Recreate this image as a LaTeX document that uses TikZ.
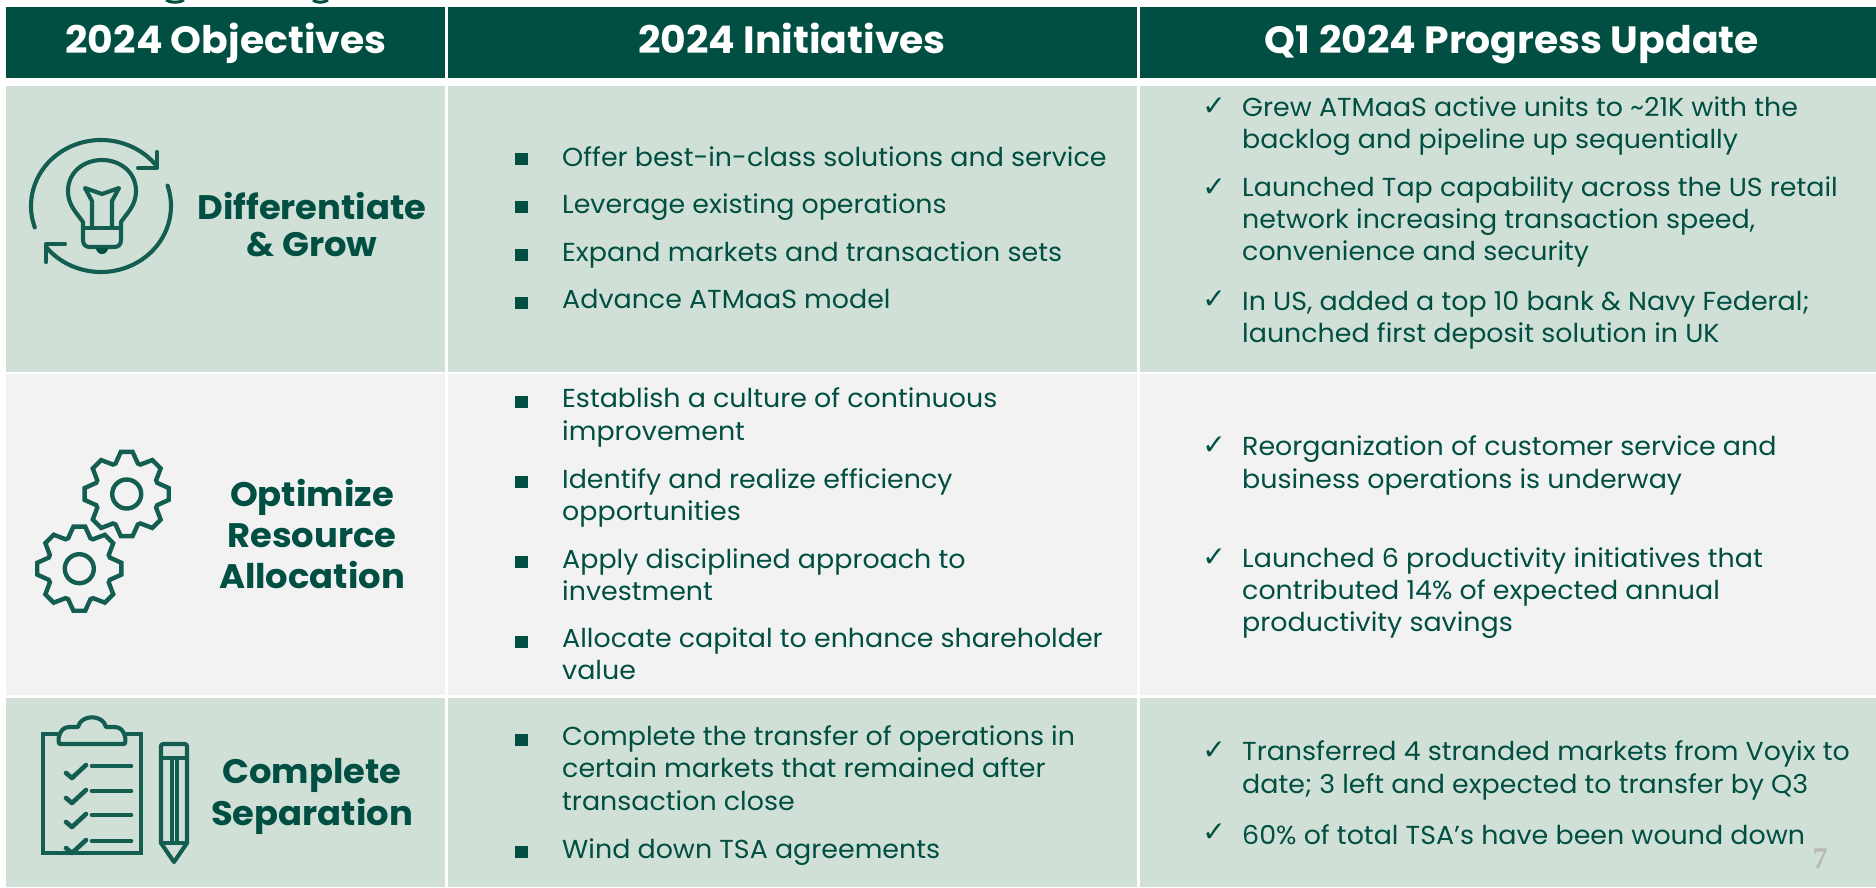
\documentclass[tikz,border=0pt]{standalone}
\usepackage{fontspec}
\setmainfont{Poppins}
\newfontfamily\bodyfont{Poppins}[FakeStretch=1.034]
\newfontfamily\headfont{Poppins Bold}[FakeStretch=1.035]
\newfontfamily\labfont{Poppins Bold}[FakeStretch=1.04]
\newfontfamily\chk{DejaVu Sans}
\newfontfamily\pgfont{Liberation Serif}
\definecolor{dk}{HTML}{004F42}
\definecolor{lg}{HTML}{D1E0D7}
\definecolor{gr}{HTML}{F2F2F2}
\tikzset{
  cellg/.style={fill=lg,draw=none},
  cellw/.style={fill=gr,draw=none},
  hd/.style={fill=dk,draw=none},
  hdtext/.style={text=white,font=\fontsize{38}{44}\selectfont\headfont,anchor=base},
  rowlab/.style={text=dk,font=\fontsize{34}{41}\selectfont\labfont,align=center,anchor=center},
  body/.style={text=dk,font=\fontsize{26}{32.2}\selectfont\bodyfont,align=left,anchor=west,inner sep=0pt},
  ck/.style={text=dk,anchor=center,inner sep=0pt,font=\fontsize{28}{28}\selectfont\chk},
  bsq/.style={fill=dk},
  ico/.style={draw=dk!92!white,line width=4.1pt,line cap=round,line join=round},
}
\newcommand\gearicon[2]{%
  \begin{scope}[shift={(#1,#2)}]
  \draw[ico,line width=4.4pt,line join=miter]
    (8:42.5) \foreach \k in {0,45,...,315}{
      -- ({\k+20}:32.5) to[bend left=14] ({\k+25}:32.5) -- ({\k+37}:42.5) -- ({\k+53}:42.5)
    } -- cycle;
  \draw[ico,line width=4.4pt] (0,0) circle (14.5);
  \end{scope}}
\begin{document}
\begin{tikzpicture}[x=1pt,y=-1pt]
\useasboundingbox (0,0) rectangle (1876,887);
\fill[white] (0,0) rectangle (1876,887);
% clipped descenders of the title above the table
\draw[dk,line width=3pt] (166,0) .. controls (170,3) and (180,3) .. (184,0);
\draw[dk,line width=3pt] (313,0) .. controls (316,3) and (324,3) .. (328,0);
% headers
\path[hd] (6,7) rectangle (445,78);
\path[hd] (448,7) rectangle (1137,78);
\path[hd] (1140,7) rectangle (1876,78);
\node[hdtext] (h1) at (226,53) {2024 Objectives};
\node[hdtext] (h2) at (792,53) {2024 Initiatives};
\node[hdtext] (h3) at (1512,53) {Q1 2024 Progress Update};
% rows
\path[cellg] (6,86) rectangle (445,372);
\path[cellg] (448,86) rectangle (1137,372);
\path[cellg] (1140,86) rectangle (1876,372);
\path[cellw] (6,374) rectangle (445,695);
\path[cellw] (448,374) rectangle (1137,695);
\path[cellw] (1140,374) rectangle (1876,695);
\path[cellg] (6,698) rectangle (445,887);
\path[cellg] (448,698) rectangle (1137,887);
\path[cellg] (1140,698) rectangle (1876,887);
% row labels
\node[rowlab,font=\fontsize{34}{37}\selectfont\labfont] (r1) at (312,225) {Differentiate\\\& Grow};
\node[rowlab] (r2) at (312,534) {Optimize\\Resource\\Allocation};
\node[rowlab,font=\fontsize{34}{42}\selectfont\labfont] (r3) at (312,796) {Complete\\Separation};
% bulb icon
\draw[ico] plot[smooth,domain=161:321,samples=30] ({101+70*cos(\x)},{206+66*sin(\x)});
\draw[ico] (157,152) -- (157,168) -- (138,168);
\draw[ico] plot[smooth,domain=-18:142,samples=30] ({101+70*cos(\x)},{206+66*sin(\x)});
\draw[ico] (46,262) -- (46,244) -- (65,244);
\draw[ico] (83,240) -- (83,222) .. controls (76,212) and (68,205) .. (68,191) .. controls (68,172) and (84,160) .. (102,160) .. controls (120,160) and (136,172) .. (136,191) .. controls (136,205) and (128,212) .. (121,222) -- (121,240) .. controls (121,245) and (118,247) .. (114,247) -- (90,247) .. controls (86,247) and (83,245) .. (83,240) -- cycle;
\draw[ico] (83,228) -- (121,228);
\draw[ico] (92,228) -- (92,201) -- (85,188) -- (102,194) -- (119,188) -- (112,201) -- (112,228);
\fill[dk] (96,248) arc[start angle=180,end angle=0,radius=6];
% gears
\gearicon{126.7}{494}
\gearicon{79.3}{568.7}
% clipboard
\draw[ico,line join=miter] (57,734) -- (43,734) -- (43,853) -- (141,853) -- (141,734) -- (127,734);
\draw[ico] (60,744) -- (124,744) .. controls (127,744) and (126,727) .. (115,727) -- (106,727) .. controls (103,714) and (81,714) .. (78,727) -- (69,727) .. controls (58,727) and (57,744) .. (60,744) -- cycle;
\foreach \l in {766,791,815,841}{
  \draw[ico,line width=4.6pt] (92,\l) -- (131,\l);
  \draw[ico,line width=4.6pt] (66,\l+7) -- (72,\l+12) -- (86,\l-1);
}
% pencil
\draw[ico] (161,746) -- (161,843) -- (174,862) -- (187,843) -- (187,746) .. controls (187,745) and (186,744) .. (185,744) -- (163,744) .. controls (162,744) and (161,745) .. (161,746) -- cycle;
\draw[ico] (161,758) -- (187,758);
\draw[ico] (161,843) -- (187,843);
\draw[ico] (172,758) -- (172,843);
\draw[ico] (177,758) -- (177,843);
% initiatives
\foreach \n/\y/\t in {
  i1/157/{Offer best-in-class solutions and service},
  i2/207/{Leverage existing operations},
  i3/255/{Expand markets and transaction sets},
  i4/299/{Advance ATMaaS model},
  i5/417.5/{Establish a culture of continuous\\improvement},
  i6/498/{Identify and realize efficiency\\opportunities},
  i7/575/{Apply disciplined approach to\\investment},
  i8/654/{Allocate capital to enhance shareholder\\value},
  i9/768/{Complete the transfer of operations in\\certain markets that remained after\\transaction close},
  i10/852/{Wind down TSA agreements}}{
  \node[body] (\n) at (562,\y) {\t};
}
\foreach \y in {159,207,255,302.7,401.7,481.7,561.7,641.7,740,851.7}{
  \fill[bsq] (515,\y-6) rectangle (528,\y+6);
}
% progress
\foreach \n/\y/\t in {
  p1/126.5/{Grew ATMaaS active units to \textasciitilde21K with the\\backlog and pipeline up sequentially},
  p2/222/{Launched Tap capability across the US retail\\network increasing transaction speed,\\convenience and security},
  p3/320/{In US, added a top 10 bank \& Navy Federal;\\launched first deposit solution in UK},
  p4/465.5/{Reorganization of customer service and\\business operations is underway},
  p5/593/{Launched 6 productivity initiatives that\\contributed 14\% of expected annual\\productivity savings},
  p6/770.5/{Transferred 4 stranded markets from Voyix to\\date; 3 left and expected to transfer by Q3},
  p7/835/{60\% of total TSA’s have been wound down}}{
  \node[body] (\n) at (1242,\y) {\t};
}
\foreach \n/\y in {c1/107,c2/188,c3/300,c4/446,c5/558,c6/751,c7/833}{
  \node[ck] (\n) at (1214,\y) {✓};
}
\node[text=black!28,font=\fontsize{30}{30}\selectfont\pgfont\bfseries] (pg) at (1820,859) {7};
\end{tikzpicture}
\end{document}
